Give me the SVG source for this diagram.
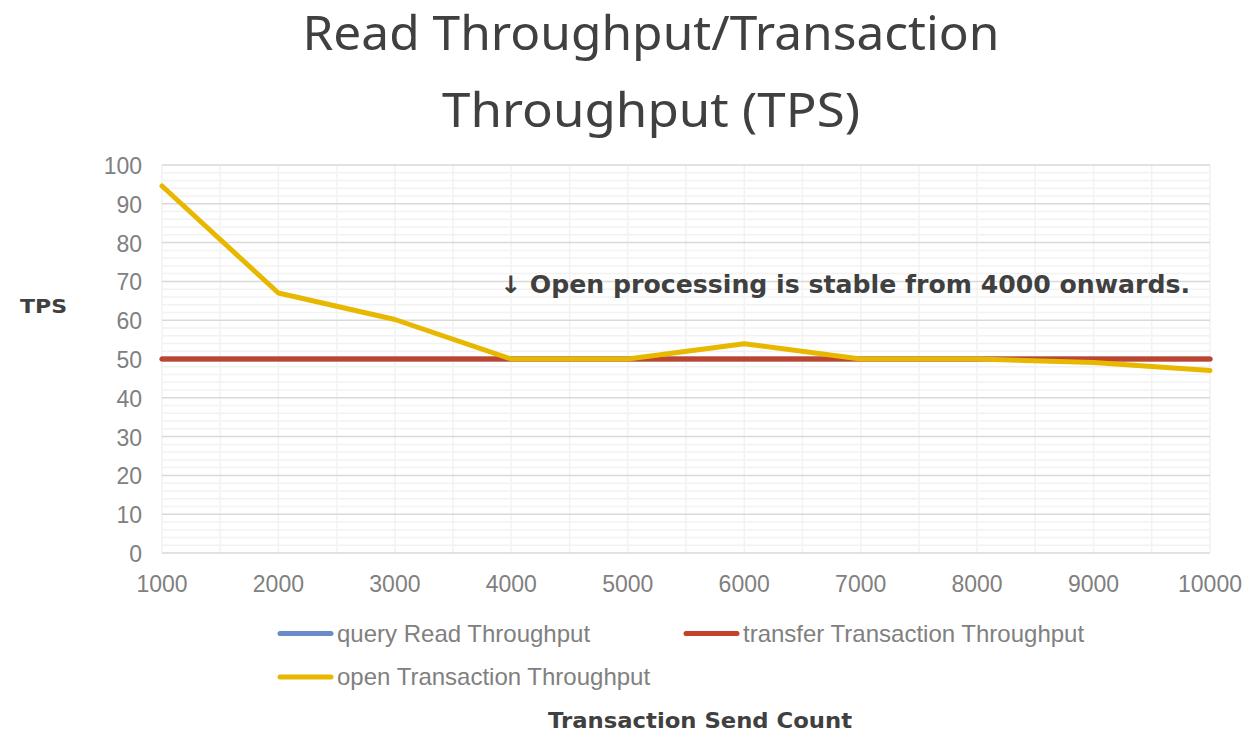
<svg xmlns="http://www.w3.org/2000/svg" width="1246" height="732" viewBox="0 0 1246 732">
<style>
.minor{stroke:#f2f2f2;stroke-width:1.5}
.major{stroke:#d9d9d9;stroke-width:1.5}
.tick{font-family:"Liberation Sans",Arial,sans-serif;font-size:23px;fill:#808080}
.leg{font-family:"Liberation Sans",Arial,sans-serif;font-size:24px;fill:#808080}
.bold{font-family:"DejaVu Sans","Noto Sans",sans-serif;font-weight:bold;fill:#404040}
.title{font-family:"Noto Sans","Open Sans",sans-serif;font-size:48px;fill:#404040}
.series{fill:none;stroke-width:5;stroke-linejoin:round;stroke-linecap:round}
</style>
<rect width="1246" height="732" fill="#ffffff"/>
<g id="title">
<text class="title" x="651" y="50" text-anchor="middle" textLength="697" lengthAdjust="spacingAndGlyphs">Read Throughput/Transaction</text>
<text class="title" x="651" y="127" text-anchor="middle" textLength="418" lengthAdjust="spacingAndGlyphs">Throughput (TPS)</text>
</g>
<g id="grid">
<g class="minor">
<path d="M162 545.2H1210M162 537.5H1210M162 529.7H1210M162 522H1210M162 506.4H1210M162 498.7H1210M162 490.9H1210M162 483.2H1210M162 467.6H1210M162 459.9H1210M162 452.1H1210M162 444.4H1210M162 428.8H1210M162 421.1H1210M162 413.3H1210M162 405.6H1210M162 390H1210M162 382.3H1210M162 374.5H1210M162 366.8H1210M162 351.2H1210M162 343.5H1210M162 335.7H1210M162 328H1210M162 312.4H1210M162 304.7H1210M162 296.9H1210M162 289.2H1210M162 273.6H1210M162 265.9H1210M162 258.1H1210M162 250.4H1210M162 234.8H1210M162 227.1H1210M162 219.3H1210M162 211.6H1210M162 196H1210M162 188.3H1210M162 180.5H1210M162 172.8H1210"/>
<path d="M162 165V553M220.2 165V553M278.4 165V553M336.7 165V553M394.9 165V553M453.1 165V553M511.3 165V553M569.6 165V553M627.8 165V553M686 165V553M744.2 165V553M802.4 165V553M860.7 165V553M918.9 165V553M977.1 165V553M1035.3 165V553M1093.6 165V553M1151.8 165V553M1210 165V553"/>
</g>
<g class="major">
<path d="M162 514.2H1210M162 475.4H1210M162 436.6H1210M162 397.8H1210M162 359H1210M162 320.2H1210M162 281.4H1210M162 242.6H1210M162 203.8H1210M162 165H1210M162 553H1210"/>
</g>
</g>
<g id="y-axis" class="tick" text-anchor="end">
<text x="142" y="562">0</text>
<text x="142" y="523">10</text>
<text x="142" y="484">20</text>
<text x="142" y="446">30</text>
<text x="142" y="407">40</text>
<text x="142" y="368">50</text>
<text x="142" y="329">60</text>
<text x="142" y="290">70</text>
<text x="142" y="252">80</text>
<text x="142" y="213">90</text>
<text x="142" y="174">100</text>
</g>
<g id="x-axis" class="tick" text-anchor="middle">
<text x="162" y="591.5">1000</text>
<text x="278.4" y="591.5">2000</text>
<text x="394.9" y="591.5">3000</text>
<text x="511.3" y="591.5">4000</text>
<text x="627.8" y="591.5">5000</text>
<text x="744.2" y="591.5">6000</text>
<text x="860.7" y="591.5">7000</text>
<text x="977.1" y="591.5">8000</text>
<text x="1093.6" y="591.5">9000</text>
<text x="1210" y="591.5">10000</text>
</g>
<g id="series">
<polyline class="series" stroke="#6a8ac8" points="162,359 1210,359"/>
<polyline class="series" stroke="#c0432a" points="162,359 278.4,359 394.9,359 511.3,359 627.8,359 744.2,359 860.7,359 977.1,359 1093.6,359 1210,359"/>
<polyline class="series" stroke="#e8b800" points="162,186 278.4,293 394.9,319.5 511.3,359 627.8,359 744.2,343.7 860.7,359 977.1,359 1093.6,362.5 1210,370.5"/>
</g>
<g id="annotation">
<text class="bold" x="500" y="293" font-size="24" textLength="690" lengthAdjust="spacingAndGlyphs">↓ Open processing is stable from 4000 onwards.</text>
</g>
<g id="axis-titles">
<text class="bold" x="20" y="313" font-size="20" textLength="47" lengthAdjust="spacingAndGlyphs">TPS</text>
<text class="bold" x="700" y="728" font-size="22" text-anchor="middle" textLength="304" lengthAdjust="spacingAndGlyphs">Transaction Send Count</text>
</g>
<g id="legend">
<line x1="280" y1="633.5" x2="331" y2="633.5" stroke="#6a8ac8" stroke-width="5" stroke-linecap="round"/>
<text class="leg" x="337" y="642">query Read Throughput</text>
<line x1="686" y1="633.5" x2="737" y2="633.5" stroke="#c0432a" stroke-width="5" stroke-linecap="round"/>
<text class="leg" x="743" y="642">transfer Transaction Throughput</text>
<line x1="280" y1="677" x2="331" y2="677" stroke="#e8b800" stroke-width="5" stroke-linecap="round"/>
<text class="leg" x="337" y="684.5">open Transaction Throughput</text>
</g>
</svg>
